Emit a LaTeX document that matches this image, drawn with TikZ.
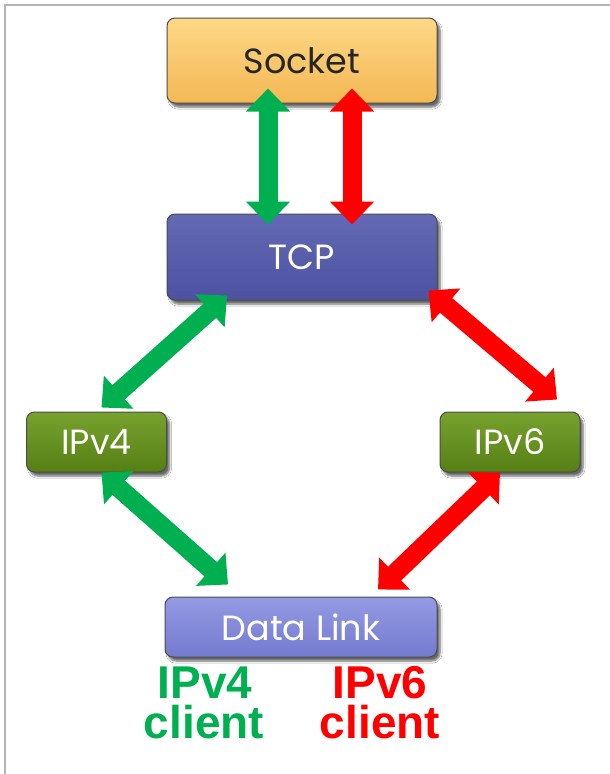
\documentclass[tikz,border=0pt]{standalone}
\usepackage{fontspec}
\setmainfont{Liberation Sans}
\newfontfamily\boxfont{Poppins}
\usetikzlibrary{arrows.meta,shadows.blur,calc}

\definecolor{sockbase}{HTML}{FBC463}
\definecolor{socktop}{HTML}{FDD886}
\definecolor{sockbot}{HTML}{F4B855}
\definecolor{tcpbase}{HTML}{5258A8}
\definecolor{tcptop}{HTML}{6369B4}
\definecolor{tcpbot}{HTML}{4C52A0}
\definecolor{ipbase}{HTML}{5E8A1A}
\definecolor{iptop}{HTML}{78A22E}
\definecolor{ipbot}{HTML}{557F14}
\definecolor{dlbase}{HTML}{7C82D6}
\definecolor{dltop}{HTML}{959AE4}
\definecolor{dlbot}{HTML}{747ACE}
\definecolor{goodgreen}{HTML}{00B050}
\definecolor{alertred}{HTML}{FF0000}
\definecolor{framegray}{HTML}{B4B4B4}

\tikzset{
  layerbox/.style={rounded corners=8pt, draw=black!70, line width=1pt,
    blur shadow={shadow xshift=3pt, shadow yshift=-4pt, shadow blur steps=6, shadow opacity=60},
    inner sep=0pt, text=white, font=\boxfont\fontsize{35}{38}\selectfont},
  sockbox/.style={layerbox, top color=socktop, middle color=sockbase, bottom color=sockbot,
    minimum width=270pt, minimum height=85pt, text=black!85},
  tcpbox/.style={layerbox, top color=tcptop, middle color=tcpbase, bottom color=tcpbot,
    minimum width=270pt, minimum height=86pt},
  ipbox/.style={layerbox, top color=iptop, middle color=ipbase, bottom color=ipbot,
    minimum width=140pt, minimum height=60pt},
  dlbox/.style={layerbox, top color=dltop, middle color=dlbase, bottom color=dlbot,
    minimum width=272pt, minimum height=60pt},
  dblarrow/.style={line width=19pt,
    {Triangle[width=43pt,length=23pt]}-{Triangle[width=43pt,length=23pt]}},
  clientlabel/.style={anchor=base, inner sep=0pt, text height=34pt, text depth=0pt,
    font=\bfseries\fontsize{46}{46}\selectfont},
}

\begin{document}
\begin{tikzpicture}[x=1pt, y=-1pt]
  \useasboundingbox (0,0) rectangle (610,774);
  \fill[white] (0,0) rectangle (610,774);
  \draw[framegray, line width=2pt] (5,774) -- (5,5) -- (610,5);

  % protocol layers
  \node[sockbox] (socket) at (302,60.5) {Socket};
  \node[tcpbox]  (tcp)    at (302,257)  {TCP};
  \node[ipbox]   (ipv4)   at (96.5,442) {IPv4};
  \node[ipbox]   (ipv6)   at (510,442)  {IPv6};
  \node[dlbox]   (dl)     at (301,627)  {Data Link};

  % IPv4 path
  \draw[dblarrow, goodgreen] ([xshift=-34pt,yshift=15pt]socket.south) -- ([xshift=-34pt,yshift=-11pt]tcp.north);
  \draw[dblarrow, goodgreen] ([xshift=-75pt,yshift=5pt]tcp.south) -- ([xshift=5pt,yshift=4pt]ipv4.north);
  \draw[dblarrow, goodgreen] ([xshift=5pt]ipv4.south) -- ([xshift=-73pt,yshift=12pt]dl.north);

  % IPv6 path
  \draw[dblarrow, alertred] ([xshift=50pt,yshift=15pt]socket.south) -- ([xshift=50pt,yshift=-11pt]tcp.north);
  \draw[dblarrow, alertred] ([xshift=-9pt,yshift=10pt]tcp.south east) -- ([xshift=47pt,yshift=12pt]ipv6.north);
  \draw[dblarrow, alertred] ([xshift=-10pt]ipv6.south) -- ([xshift=77pt,yshift=7pt]dl.north);

  % client captions
  \node[clientlabel, text=goodgreen] (v4name) at (205,698) {IPv4};
  \node[clientlabel, text=goodgreen] (v4cli)  at (204,738) {client};
  \node[clientlabel, text=alertred]  (v6name) at (380,698) {IPv6};
  \node[clientlabel, text=alertred]  (v6cli)  at (380,738) {client};
\end{tikzpicture}
\end{document}
